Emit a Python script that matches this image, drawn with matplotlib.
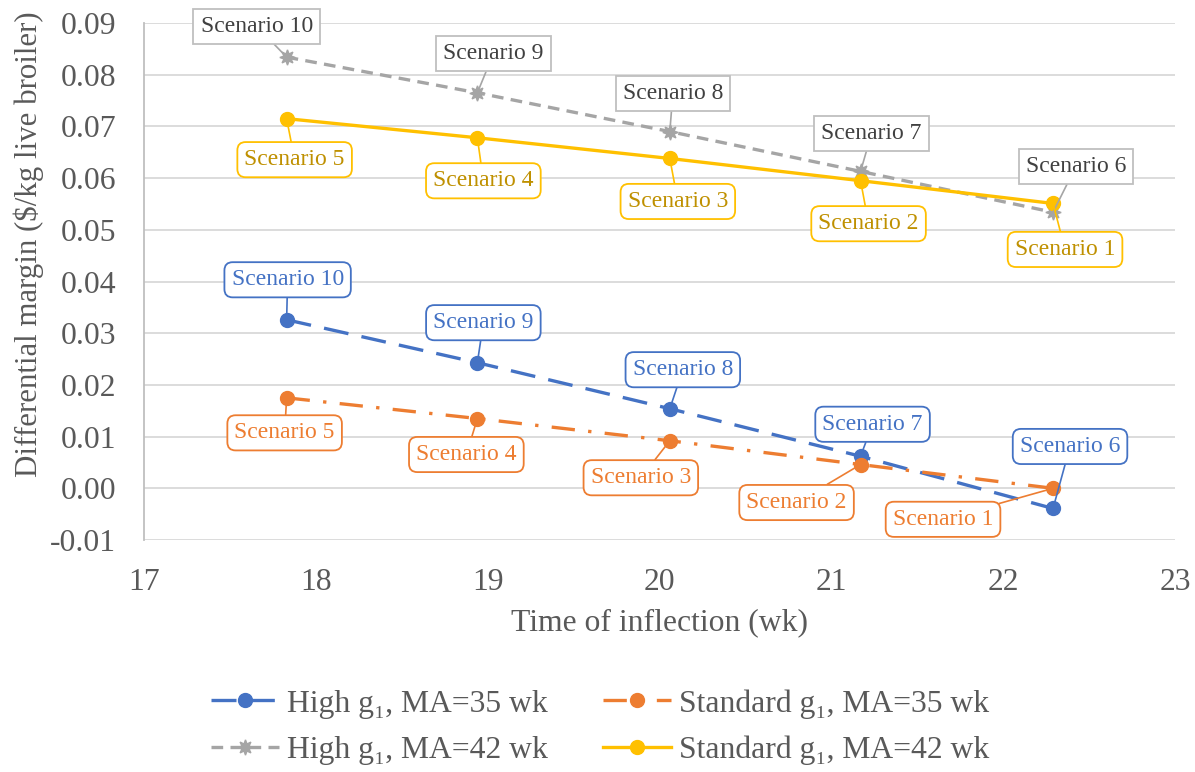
import matplotlib.pyplot as plt

plt.rcParams['font.family'] = ['Liberation Serif', 'DejaVu Serif']

# time of inflection (wk) for scenarios 1..5 / 6..10, left to right
t_infl = [17.83, 18.94, 20.06, 21.17, 22.29]

# differential margin ($/kg live broiler)
high_35 = [0.0326, 0.0243, 0.0154, 0.0062, -0.0039]
std_35 = [0.0175, 0.0135, 0.0092, 0.0046, 0.0000]
high_42 = [0.0834, 0.0765, 0.0690, 0.0613, 0.0534]
std_42 = [0.0715, 0.0678, 0.0638, 0.0595, 0.0551]

high_names = ['Scenario 10', 'Scenario 9', 'Scenario 8', 'Scenario 7', 'Scenario 6']
std_names = ['Scenario 5', 'Scenario 4', 'Scenario 3', 'Scenario 2', 'Scenario 1']

blue = '#4472C4'
orange = '#ED7D31'
gray = '#A5A5A5'
gold = '#FFC000'

fig = plt.figure(figsize=(11.95, 7.72), dpi=100)
ax = fig.add_axes([0.1205, 0.3005, 0.8628, 0.6697])

l1, = ax.plot(t_infl, high_35, color=blue, lw=2.4, dashes=(7.5, 4), marker='o', ms=10,
              label='High g\u2081, MA=35 wk', zorder=4)
l3, = ax.plot(t_infl, std_35, color=orange, lw=2.4, dashes=(7, 4, 1, 4), marker='o', ms=10,
              label='Standard g\u2081, MA=35 wk', zorder=4)
l2, = ax.plot(t_infl, high_42, color=gray, lw=2.4, dashes=(3.5, 2.2), marker=(8, 1, 0), ms=11,
              label='High g\u2081, MA=42 wk', zorder=3)
l4, = ax.plot(t_infl, std_42, color=gold, lw=2.4, marker='o', ms=10,
              label='Standard g\u2081, MA=42 wk', zorder=3)

# data label offsets in pixels from each point
off_high_35 = [(1, 40), (6, 40), (13, 39), (12, 32), (17, 62)]
off_std_35 = [(-2, -35), (-11, -36), (-29, -37), (-64, -38), (-110, -31)]
off_high_42 = [(-30, 31), (16, 39), (3, 38), (11, 38), (23, 46)]
off_std_42 = [(8, -41), (6, -43), (8, -43), (8, -43), (12, -46)]


def labels(ys, names, offs, txt, edge, line, box):
    for x, y, name, off in zip(t_infl, ys, names, offs):
        ax.annotate(name, (x, y), xytext=off, textcoords='offset pixels',
                    ha='center', va='center', fontsize=17, color=txt, zorder=6,
                    bbox=dict(boxstyle=box, fc='white', ec=edge, lw=1.3),
                    arrowprops=dict(arrowstyle='-', color=line, lw=1.2,
                                    shrinkA=0, shrinkB=0))


labels(high_42, high_names, off_high_42, '#404040', '#BFBFBF', gray, 'square,pad=0.3')
labels(std_42, std_names, off_std_42, '#BF9000', gold, gold, 'round,pad=0.3,rounding_size=0.35')
labels(high_35, high_names, off_high_35, blue, blue, blue, 'round,pad=0.3,rounding_size=0.35')
labels(std_35, std_names, off_std_35, orange, orange, orange, 'round,pad=0.3,rounding_size=0.35')

ax.set_xlim(17, 23)
ax.set_ylim(-0.01, 0.09)
ax.set_yticks([i / 100 for i in range(-1, 10)])
ax.set_yticklabels(['%.2f' % (i / 100) for i in range(-1, 10)])
ax.grid(axis='y', color='#D9D9D9', lw=1.3)
ax.set_axisbelow(True)
for s in ['top', 'right', 'bottom']:
    ax.spines[s].set_visible(False)
ax.spines['left'].set_color('#BFBFBF')
ax.spines['left'].set_linewidth(1.3)
ax.tick_params(length=0, labelsize=22.8, colors='#595959')
ax.tick_params(axis='y', pad=20)
ax.tick_params(axis='x', pad=20)

ax.set_xlabel('Time of inflection (wk)', fontsize=22.8, color='#595959', labelpad=8)
fig.text(0.024, 0.684, 'Differential margin ($/kg live broiler)', rotation=90,
         ha='center', va='center', fontsize=22.2, color='#595959')

leg = fig.legend(handles=[l1, l2, l3, l4], loc='center', bbox_to_anchor=(0.502, 0.058),
                 ncol=2, frameon=False, fontsize=22.8, handlelength=2.15,
                 columnspacing=1.75, handletextpad=0.25, labelspacing=0.55)
for t in leg.get_texts():
    t.set_color('#595959')

fig.savefig('out.png', dpi=100)
